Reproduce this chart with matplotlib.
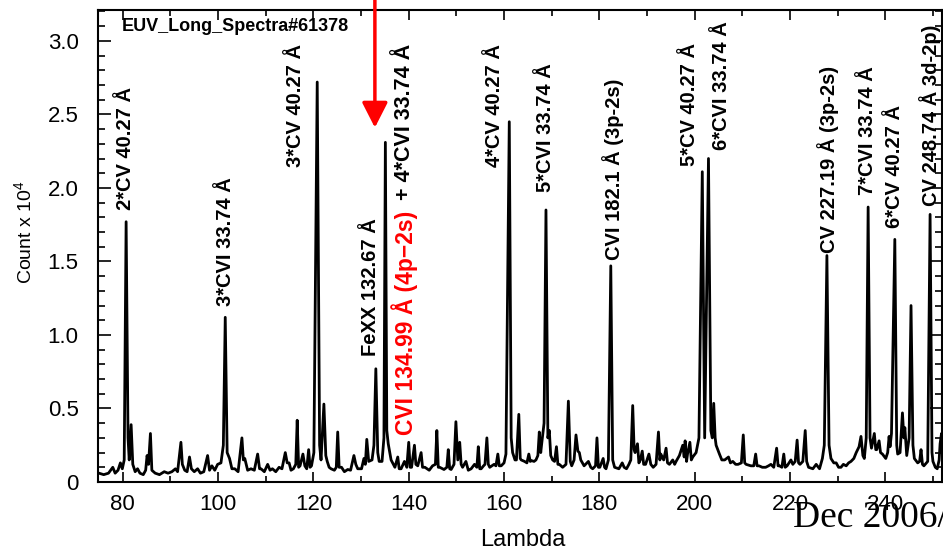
import matplotlib
matplotlib.use("Agg")
import matplotlib.pyplot as plt
from matplotlib.ticker import MultipleLocator, FuncFormatter

plt.rcParams['font.family'] = ['Liberation Sans', 'DejaVu Sans']
plt.rcParams['mathtext.fontset'] = 'custom'
plt.rcParams['mathtext.rm'] = 'Liberation Sans'
plt.rcParams['mathtext.it'] = 'Liberation Sans'

# ---------------- data ----------------
lam = [75.0, 76.0, 77.0, 77.9, 78.4, 79.0, 79.5, 79.9, 80.3, 80.7, 81.1, 81.35, 81.75, 82.1, 82.6,
       83.1, 83.6, 84.3, 84.8, 85.1, 85.4, 85.8, 86.1, 86.8, 87.7, 88.7, 89.5, 90.3, 91.05, 91.5,
       92.2, 92.5, 93.0, 93.5, 94.0, 94.4, 95.0, 95.7, 96.3, 97.0, 97.8, 98.2, 98.7, 99.3, 99.9,
       100.6, 101.1, 101.5, 101.9, 102.4, 102.9, 103.5, 104.2, 105.0, 105.3, 105.6, 106.2, 106.9,
       107.6, 108.3, 108.7, 109.0, 109.7, 110.4, 110.9, 111.4, 112.1, 112.8, 113.4, 114.1, 114.5,
       114.9, 115.3, 115.8, 116.3, 116.6, 116.9, 117.2, 117.8, 118.2, 118.6, 119.0, 119.3, 119.6,
       120.1, 120.8, 121.3, 121.6, 122.2, 122.6, 122.9, 123.3, 123.7, 124.4, 124.8, 125.1, 125.4,
       125.9, 126.5, 127.2, 127.8, 128.5, 128.9, 129.3, 130.1, 130.6, 130.9, 131.2, 131.6, 132.3,
       132.7, 133.1, 133.5, 133.8, 134.4, 134.8, 135.1, 135.4, 135.7, 136.3, 137.1, 137.7, 138.0,
       138.4, 139.1, 139.6, 140.0, 140.3, 140.6, 141.2, 141.5, 141.9, 142.6, 142.9, 143.4, 144.3,
       145.0, 145.6, 145.9, 146.2, 146.5, 147.4, 148.0, 148.3, 148.6, 148.9, 149.5, 149.9, 150.3,
       150.7, 151.0, 151.3, 152.0, 152.5, 153.1, 153.8, 154.3, 154.6, 154.9, 155.2, 155.7, 156.0,
       156.4, 156.7, 157.0, 157.9, 158.3, 158.7, 159.0, 159.4, 160.0, 160.4, 161.1, 161.5, 161.8,
       162.3, 162.6, 163.1, 163.4, 163.6, 164.3, 164.8, 165.2, 165.5, 165.8, 166.3, 166.7, 167.1,
       167.4, 167.7, 167.9, 168.4, 168.8, 169.2, 169.5, 169.8, 170.2, 170.6, 171.0, 171.3, 171.6,
       172.3, 173.0, 173.5, 173.9, 174.2, 174.7, 175.1, 175.5, 175.8, 176.1, 176.8, 177.7, 178.2,
       178.6, 179.2, 179.5, 179.8, 180.1, 180.8, 181.1, 181.4, 181.9, 182.4, 182.8, 183.2, 184.1,
       184.8, 185.2, 185.7, 186.2, 186.6, 187.0, 187.3, 187.5, 188.0, 188.3, 188.6, 189.0, 189.3,
       189.7, 190.4, 190.8, 191.3, 191.9, 192.4, 192.7, 192.9, 193.5, 194.0, 194.3, 194.7, 195.4,
       195.8, 196.1, 196.8, 197.5, 197.8, 198.0, 198.3, 198.5, 199.0, 199.3, 199.6, 200.3, 200.9,
       201.6, 202.1, 202.9, 203.4, 203.7, 204.0, 204.3, 204.5, 205.2, 205.7, 206.3, 207.1, 207.5,
       208.0, 208.6, 209.1, 209.8, 210.2, 210.5, 210.8, 211.8, 212.4, 212.8, 213.1, 213.5, 214.2,
       214.9, 215.5, 216.0, 216.6, 217.2, 217.5, 217.8, 218.3, 218.7, 219.0, 219.4, 220.2, 220.6,
       221.1, 221.5, 221.8, 222.1, 222.7, 223.2, 223.5, 223.9, 224.8, 225.5, 226.2, 226.8, 227.2,
       227.75, 228.2, 228.6, 229.2, 229.7, 230.2, 230.7, 231.2, 231.8, 232.3, 232.8, 233.4, 233.9,
       234.5, 234.9, 235.3, 235.6, 236.0, 236.4, 236.8, 237.1, 237.7, 238.0, 238.2, 238.7, 239.0,
       239.4, 240.1, 240.5, 240.8, 241.0, 241.3, 242.0, 242.4, 242.6, 243.1, 243.6, 243.9, 244.1,
       244.5, 245.0, 245.4, 245.8, 246.1, 246.8, 247.2, 247.5, 247.8, 248.1, 248.9, 249.4, 249.8,
       250.0, 250.5, 250.9, 251.3, 251.5, 251.8, 252.0]
count = [0.06, 0.05, 0.06, 0.10, 0.06, 0.08, 0.13, 0.09, 0.15, 1.77, 0.30, 0.15, 0.39, 0.12, 0.07,
         0.09, 0.06, 0.05, 0.08, 0.18, 0.12, 0.33, 0.08, 0.06, 0.05, 0.07, 0.06, 0.07, 0.09, 0.07,
         0.27, 0.12, 0.08, 0.07, 0.17, 0.09, 0.07, 0.09, 0.06, 0.07, 0.18, 0.08, 0.11, 0.08, 0.12,
         0.13, 0.25, 1.12, 0.20, 0.16, 0.09, 0.09, 0.07, 0.30, 0.15, 0.16, 0.08, 0.09,
         0.08, 0.19, 0.09, 0.09, 0.07, 0.12, 0.08, 0.09, 0.07, 0.10, 0.09, 0.20, 0.13,
         0.13, 0.08, 0.09, 0.12, 0.42, 0.10, 0.11, 0.19, 0.11, 0.09, 0.22, 0.10, 0.11,
         0.20, 2.72, 0.25, 0.15, 0.53, 0.18, 0.14, 0.10, 0.09, 0.08, 0.10, 0.34, 0.10,
         0.10, 0.07, 0.085, 0.08, 0.18, 0.12, 0.09, 0.09, 0.16, 0.12, 0.29, 0.14, 0.15,
         0.25, 0.77, 0.20, 0.14, 0.14, 0.30, 2.31, 0.35, 0.26, 0.15, 0.10, 0.17, 0.09,
         0.09, 0.14, 0.10, 0.27, 0.10, 0.10, 0.25, 0.12, 0.11, 0.20, 0.10, 0.10, 0.08,
         0.11, 0.12, 0.35, 0.10, 0.10, 0.085, 0.10, 0.22, 0.09, 0.085, 0.12, 0.41, 0.15,
         0.27, 0.12, 0.10, 0.14, 0.08, 0.09, 0.12, 0.10, 0.24, 0.09, 0.09, 0.11, 0.12,
         0.30, 0.12, 0.10, 0.12, 0.11, 0.19, 0.11, 0.11, 0.13, 0.19, 2.45, 0.30, 0.20,
         0.15, 0.15, 0.46, 0.16, 0.15, 0.14, 0.13, 0.19, 0.14, 0.145, 0.14, 0.15, 0.18,
         0.34, 0.20, 0.26, 0.40, 1.85, 0.30, 0.35, 0.18, 0.15, 0.14, 0.24, 0.12, 0.12,
         0.10, 0.12, 0.55, 0.14, 0.11, 0.15, 0.32, 0.21, 0.20, 0.15, 0.11, 0.14, 0.10,
         0.09, 0.11, 0.30, 0.10, 0.10, 0.16, 0.10, 0.09, 0.15, 1.47, 0.15, 0.10, 0.09,
         0.13, 0.10, 0.09, 0.12, 0.15, 0.52, 0.22, 0.20, 0.26, 0.13, 0.15, 0.21, 0.12,
         0.12, 0.19, 0.12, 0.10, 0.12, 0.34, 0.15, 0.19, 0.15, 0.23, 0.13, 0.12, 0.15,
         0.12, 0.14, 0.18, 0.25, 0.17, 0.28, 0.14, 0.19, 0.27, 0.15, 0.17, 0.20, 0.30,
         2.11, 0.30, 2.20, 0.35, 0.30, 0.535, 0.30, 0.25, 0.19, 0.15, 0.15, 0.17, 0.13,
         0.14, 0.12, 0.12, 0.13, 0.32, 0.13, 0.12, 0.11, 0.11, 0.19, 0.11, 0.11, 0.10,
         0.10, 0.11, 0.12, 0.10, 0.23, 0.11, 0.11, 0.10, 0.19, 0.10, 0.11, 0.15, 0.12,
         0.14, 0.285, 0.13, 0.12, 0.14, 0.35, 0.14, 0.10, 0.09, 0.12, 0.09, 0.16, 0.25,
         1.54, 0.25, 0.16, 0.13, 0.13, 0.10, 0.10, 0.12, 0.11, 0.13, 0.14, 0.16, 0.20,
         0.24, 0.31, 0.18, 0.16, 0.30, 1.87, 0.30, 0.23, 0.33, 0.22, 0.22, 0.28, 0.20,
         0.19, 0.16, 0.20, 0.31, 0.24, 0.33, 1.65, 0.25, 0.19, 0.20, 0.47, 0.30, 0.37,
         0.18, 0.30, 1.20, 0.25, 0.16, 0.13, 0.14, 0.22, 0.12, 0.11, 0.14, 1.82, 0.20,
         0.14, 0.10, 0.09, 0.15, 0.26, 0.33, 0.30]

# line identifications
line_labels = ["2*CV 40.27 Å", "3*CVI 33.74 Å", "3*CV 40.27 Å", "FeXX 132.67 Å",
               "+ 4*CVI 33.74 Å", "4*CV 40.27 Å", "5*CVI 33.74 Å", "CVI 182.1 Å (3p-2s)",
               "5*CV 40.27 Å", "6*CVI 33.74 Å", "CV 227.19 Å (3p-2s)", "7*CVI 33.74 Å",
               "6*CV 40.27 Å", "CV 248.74 Å 3d-2p)"]
label_x = [80.6, 101.6, 116.3, 132.0, 139.2, 158.0, 168.7, 182.8, 198.9, 205.7, 227.9, 236.3,
           241.9, 249.3]
label_y = [1.85, 1.20, 2.14, 0.86, 1.92, 2.14, 1.97, 1.51, 2.15, 2.26, 1.56, 1.95, 1.73, 1.88]
label_size = [14.5, 14.5, 14.5, 14.5, 15.5, 14.5, 14.5, 14.5, 14.5, 14.5, 14.5, 14.5, 14.5, 14.5]

key_label = "CVI 134.99 Å (4p\u22122s)"
key_x, key_y = 139.2, 0.32
arrow_x, arrow_tip = 132.9, 2.41

title = "EUV_Long_Spectra#61378"
xticks = [80, 100, 120, 140, 160, 180, 200, 220, 240]

# ---------------- figure ----------------
W, H = 943, 552
fig = plt.figure(figsize=(W / 100, H / 100), dpi=100)
ax = fig.add_axes([98 / W, 1 - 482 / H, (942 - 98) / W, (482 - 10) / H])

ax.plot(lam, count, color='black', lw=2.0)

ax.set_xlim(74.8, 251.9)
ax.set_ylim(0, 3.21)
ax.set_xticks(xticks)
ax.xaxis.set_minor_locator(MultipleLocator(10))
ax.yaxis.set_major_locator(MultipleLocator(0.5))
ax.yaxis.set_minor_locator(MultipleLocator(0.1))
ax.yaxis.set_major_formatter(FuncFormatter(lambda v, p: '0' if abs(v) < 1e-9 else f'{v:.1f}'))

ax.tick_params(which='both', direction='in', top=True, right=True, width=1.2, labelsize=16)
ax.tick_params(axis='x', which='major', length=7, pad=9)
ax.tick_params(axis='x', which='minor', length=4)
ax.tick_params(axis='y', which='major', length=9, pad=14)
ax.tick_params(axis='y', which='minor', length=5)
for s in ax.spines.values():
    s.set_linewidth(1.5)

ax.set_xlabel('Lambda', fontsize=17, va='center')
ax.xaxis.set_label_coords((523 - 98) / 844, (482 - 540) / 472)
ax.set_ylabel('Count x 10$^{4}$', fontsize=14, va='center')
ax.yaxis.set_label_coords((24 - 98) / 844, (482 - 232) / 472)

ax.text(0.0284, 0.964, title, transform=ax.transAxes, ha='left', va='center',
        fontsize=13, fontweight='bold')

for t, x, y, fs in zip(line_labels, label_x, label_y, label_size):
    ax.text(x, y, t, rotation=90, ha='center', va='bottom', fontsize=fs,
            fontweight='bold', color='black', clip_on=False)

ax.text(key_x, key_y, key_label, rotation=90, ha='center', va='bottom', fontsize=16.5,
        fontweight='bold', color='red')

ax.annotate('', xy=(arrow_x, arrow_tip), xytext=(arrow_x, 3.32),
            arrowprops=dict(arrowstyle='-|>,head_length=0.55,head_width=0.28',
                            mutation_scale=28, color='red', lw=2.5,
                            shrinkA=0, shrinkB=0),
            annotation_clip=False)

fig.text(793 / W, 1 - 527 / H, 'Dec 2006/', fontsize=27, ha='left', va='baseline',
         family=['Liberation Serif', 'DejaVu Serif'])

fig.savefig('out.png', dpi=100)
